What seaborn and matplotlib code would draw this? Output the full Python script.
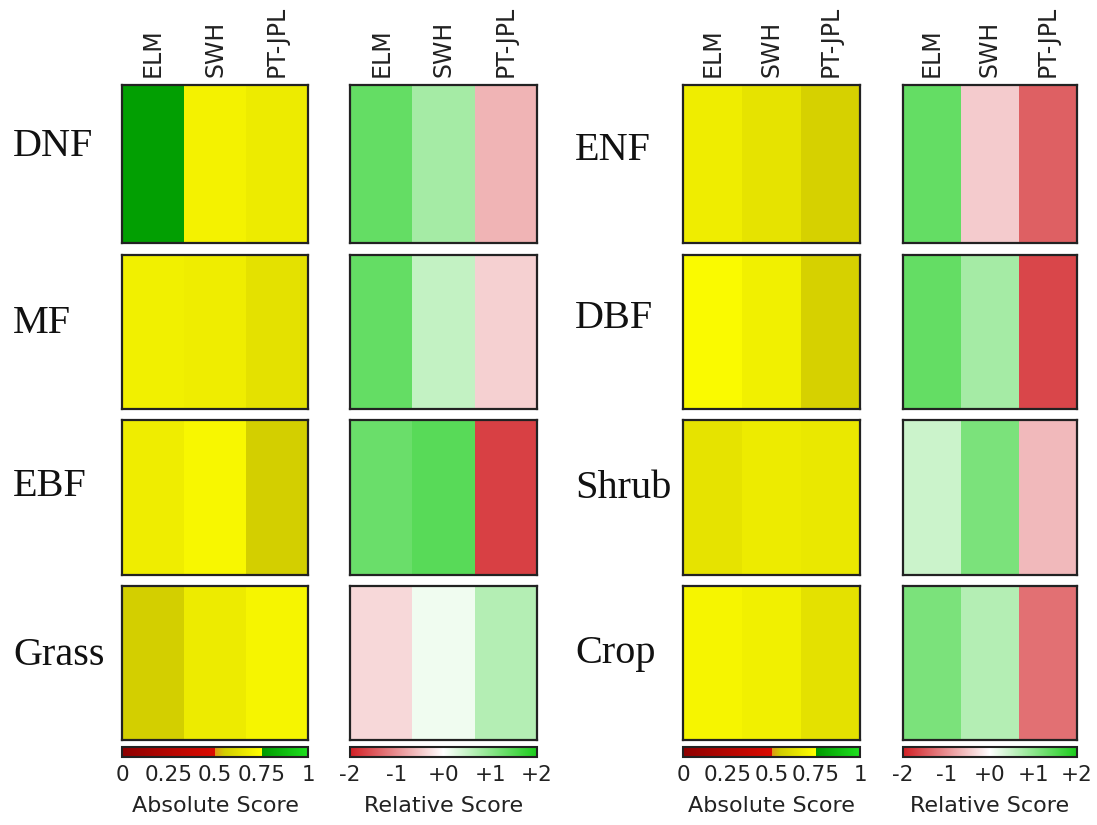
"""Scorecard of absolute and relative model scores by plant functional type."""

import matplotlib
matplotlib.use("Agg")
import matplotlib.pyplot as plt
from matplotlib.colors import LinearSegmentedColormap
import seaborn as sns
import pandas as pd

# ---- data -------------------------------------------------------------
models = ["ELM", "SWH", "PT-JPL"]

left_pfts = ["DNF", "MF", "EBF", "Grass"]
right_pfts = ["ENF", "DBF", "Shrub", "Crop"]

# absolute scores (0..1), one row per PFT, columns follow `models`
abs_left = [
    [0.77, 0.70, 0.67],
    [0.69, 0.68, 0.63],
    [0.68, 0.72, 0.56],
    [0.56, 0.67, 0.71],
]
abs_right = [
    [0.68, 0.64, 0.57],
    [0.73, 0.69, 0.57],
    [0.64, 0.67, 0.66],
    [0.71, 0.69, 0.63],
]

# relative scores (-2..+2)
rel_left = [
    [1.35, 0.78, -0.67],
    [1.35, 0.52, -0.42],
    [1.30, 1.45, -1.70],
    [-0.35, 0.13, 0.65],
]
rel_right = [
    [1.35, -0.46, -1.42],
    [1.35, 0.78, -1.65],
    [0.45, 1.15, -0.62],
    [1.15, 0.65, -1.27],
]

abs_ticks = [0, 0.25, 0.5, 0.75, 1]
abs_ticklabels = ["0", "0.25", "0.5", "0.75", "1"]
rel_ticks = [-2, -1, 0, 1, 2]
rel_ticklabels = ["-2", "-1", "+0", "+1", "+2"]

# ---- colour maps --------------------------------------------------------
abs_cmap = LinearSegmentedColormap.from_list("absolute", [
    (0.0, (0.55, 0.0, 0.0)),
    (0.4999, (0.86, 0.04, 0.0)),
    (0.5, (0.88, 0.58, 0.08)),
    (0.55, (0.82, 0.80, 0.0)),
    (0.7499, (1.0, 1.0, 0.0)),
    (0.75, (0.0, 0.60, 0.0)),
    (1.0, (0.12, 0.88, 0.12)),
], N=1024)

rel_cmap = LinearSegmentedColormap.from_list("relative", [
    (0.0, (0.82, 0.12, 0.14)),
    (0.5, (1.0, 1.0, 1.0)),
    (1.0, (0.10, 0.80, 0.10)),
], N=1024)

# ---- layout (pixels on a 1097 x 825 canvas) -----------------------------
W, H = 1097, 825
row_y = [(85, 243), (255, 409), (420, 575), (586, 740)]
cbar_y = (747, 757)
groups = [
    dict(pfts=left_pfts, abs_vals=abs_left, rel_vals=rel_left,
         abs_x=(122, 308), rel_x=(350, 537), label_x=13,
         label_dy=[-8, 1, -1, 2]),
    dict(pfts=right_pfts, abs_vals=abs_right, rel_vals=rel_right,
         abs_x=(683, 860), rel_x=(903, 1077), label_x=575,
         label_dy=[-4, -4, 0, 0]),
]

sns.set_theme(style="white")
plt.rcParams["font.family"] = ["DejaVu Sans"]

fig = plt.figure(figsize=(W / 100, H / 100), dpi=100)


def px_axes(xs, ys):
    return fig.add_axes([xs[0] / W, 1 - ys[1] / H,
                         (xs[1] - xs[0]) / W, (ys[1] - ys[0]) / H])


def style_box(ax, first):
    for sp in ax.spines.values():
        sp.set_visible(True)
        sp.set_linewidth(1.6)
        sp.set_edgecolor("#222222")
    if first:
        ax.xaxis.tick_top()
        ax.tick_params(axis="x", rotation=90, length=0, labelsize=17,
                       pad=6, colors="#222222")
        for lab in ax.get_xticklabels():
            lab.set_verticalalignment("bottom")


def style_cbar(ax, ticks, ticklabels, title):
    cb = ax.collections[0].colorbar
    cb.outline.set_visible(True)
    cb.outline.set_linewidth(1.5)
    cb.outline.set_edgecolor("#222222")
    cb.set_ticks(ticks)
    cb.set_ticklabels(ticklabels)
    cb.ax.tick_params(length=0, labelsize=15.5, pad=6, colors="#222222")
    cb.ax.set_xlabel(title, fontsize=16, labelpad=8, color="#222222")


for g in groups:
    n = len(g["pfts"])
    abs_cax = px_axes(g["abs_x"], cbar_y)
    rel_cax = px_axes(g["rel_x"], cbar_y)
    for i, pft in enumerate(g["pfts"]):
        last = i == n - 1
        first = i == 0
        df_abs = pd.DataFrame([g["abs_vals"][i]], columns=models, index=[pft])
        df_rel = pd.DataFrame([g["rel_vals"][i]], columns=models, index=[pft])

        ax_a = px_axes(g["abs_x"], row_y[i])
        sns.heatmap(df_abs, ax=ax_a, cmap=abs_cmap, vmin=0, vmax=1,
                    cbar=last, cbar_ax=abs_cax if last else None,
                    cbar_kws={"orientation": "horizontal"} if last else None,
                    xticklabels=models if first else False,
                    yticklabels=False)
        style_box(ax_a, first)
        if last:
            style_cbar(ax_a, abs_ticks, abs_ticklabels, "Absolute Score")

        ax_r = px_axes(g["rel_x"], row_y[i])
        sns.heatmap(df_rel, ax=ax_r, cmap=rel_cmap, vmin=-2, vmax=2,
                    cbar=last, cbar_ax=rel_cax if last else None,
                    cbar_kws={"orientation": "horizontal"} if last else None,
                    xticklabels=models if first else False,
                    yticklabels=False)
        style_box(ax_r, first)
        if last:
            style_cbar(ax_r, rel_ticks, rel_ticklabels, "Relative Score")

        # row label, baseline placed near the row's middle
        yb = (row_y[i][0] + row_y[i][1]) / 2 + g["label_dy"][i]
        fig.text(g["label_x"] / W, 1 - yb / H, pft, ha="left", va="baseline",
                 fontsize=29, family="Liberation Serif", color="#111111")

fig.savefig("out.png", dpi=100, facecolor="white")
